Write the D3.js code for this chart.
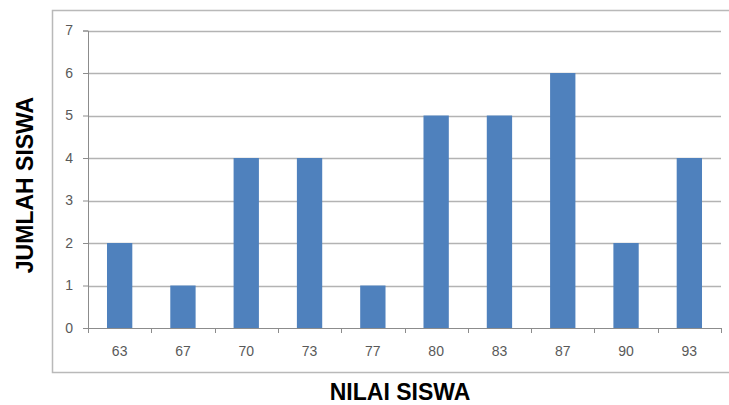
<!DOCTYPE html>
<html>
<head>
<meta charset="utf-8">
<script src="https://cdn.jsdelivr.net/npm/d3@7"></script>
<style>
  html, body { margin: 0; padding: 0; background: #fff; }
  svg { display: block; }
</style>
</head>
<body>
<svg id="chart" width="729" height="405"></svg>
<script>
// Student score distribution
const categories = ["63", "67", "70", "73", "77", "80", "83", "87", "90", "93"];
const counts = [2, 1, 4, 4, 1, 5, 5, 6, 2, 4];
const yTicks = [0, 1, 2, 3, 4, 5, 6, 7];
const xTitle = "NILAI SISWA";
const yTitle = "JUMLAH SISWA";

const svg = d3.select("#chart");
const W = 729, H = 405;
const plot = { left: 88, right: 721, top: 30.5, bottom: 328 };
const labelFont = "Liberation Sans, Arial, sans-serif";

// chart area frame
svg.append("rect")
  .attr("x", 52.5).attr("y", 10.5)
  .attr("width", W + 10).attr("height", 362)
  .attr("fill", "#fff")
  .attr("stroke", "#b9b9b9").attr("stroke-width", 1.5);

const x = d3.scaleBand().domain(categories).range([plot.left, plot.right]).paddingInner(0.6).paddingOuter(0.3);
const xEdges = d3.scaleLinear().domain([0, categories.length]).range([plot.left, plot.right]);
const y = d3.scaleLinear().domain([0, 7]).range([plot.bottom, plot.top]);

// horizontal gridlines
svg.append("g").selectAll("line").data(yTicks.filter(d => d > 0)).join("line")
  .attr("x1", plot.left).attr("x2", plot.right)
  .attr("y1", d => Math.round(y(d)) + 0.5).attr("y2", d => Math.round(y(d)) + 0.5)
  .attr("stroke", "#b3b3b3").attr("stroke-width", 1.5);

// bars
svg.append("g").selectAll("rect").data(counts).join("rect")
  .attr("x", (d, i) => x(categories[i]))
  .attr("width", x.bandwidth())
  .attr("y", d => y(d))
  .attr("height", d => y(0) - y(d))
  .attr("fill", "#4f81bd");

// y axis
const yAxis = d3.axisLeft(y).tickValues(yTicks).tickSize(5).tickPadding(10).tickFormat(d3.format("d"));
const gy = svg.append("g").attr("transform", `translate(${plot.left},0)`).call(yAxis);
gy.select(".domain").attr("stroke", "#8c8c8c");
gy.selectAll(".tick line").attr("stroke", "#8c8c8c");
gy.selectAll(".tick text").attr("fill", "#595959").attr("font-family", labelFont).attr("font-size", 14);

// x axis: ticks at category boundaries, labels centred in each band
const gx = svg.append("g").attr("transform", `translate(0,${plot.bottom})`);
gx.append("line").attr("x1", plot.left).attr("x2", plot.right).attr("y1", 0.5).attr("y2", 0.5).attr("stroke", "#8c8c8c");
gx.selectAll(".tk").data(d3.range(categories.length + 1)).join("line").attr("class", "tk")
  .attr("x1", i => Math.round(xEdges(i)) + 0.5).attr("x2", i => Math.round(xEdges(i)) + 0.5)
  .attr("y1", 0).attr("y2", 5).attr("stroke", "#8c8c8c");
gx.selectAll("text").data(categories).join("text")
  .attr("x", d => x(d) + x.bandwidth() / 2)
  .attr("y", 28)
  .attr("text-anchor", "middle")
  .attr("fill", "#595959")
  .attr("font-family", labelFont)
  .attr("font-size", 14)
  .text(d => d);

// axis titles
svg.append("text")
  .attr("x", 400).attr("y", 400)
  .attr("text-anchor", "middle")
  .attr("font-family", labelFont)
  .attr("font-weight", "bold").attr("font-size", 23)
  .attr("fill", "#000")
  .text(xTitle);

svg.append("text")
  .attr("transform", "translate(33,185) rotate(-90)")
  .attr("text-anchor", "middle")
  .attr("font-family", labelFont)
  .attr("font-weight", "bold").attr("font-size", 23)
  .attr("fill", "#000")
  .text(yTitle);
</script>
</body>
</html>
